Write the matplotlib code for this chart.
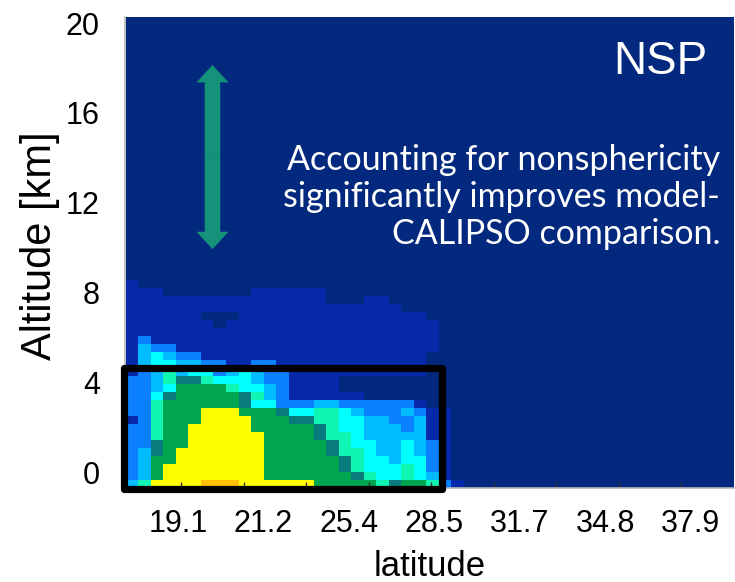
import numpy as np
import matplotlib
matplotlib.use("Agg")
import matplotlib.pyplot as plt
from matplotlib.colors import ListedColormap, BoundaryNorm
from matplotlib.patches import FancyArrowPatch, Rectangle

# curtain levels, one char per model cell (top row first)
# . navy, d dark blue, b azure, l light blue, c cyan, a aquamarine, t teal, g green, y yellow, o orange
curtain_rows = [
    "...........................",
    "d..........................",
    "ddd.......dddddd...........",
    "dddddddddddddddd...dd......",
    "dddddddddddddddddddddd.....",
    "dddddd...ddddddddddddddd...",
    "ddddddd.ddddddddddddddddd..",
    "ddddddddddddddddddddddddd..",
    "dbddddddddddddddddddddddd..",
    "dlbbddddddddddddddddddddd..",
    "dlclbbdddddddddddddddddd...",
    "dlccllbbddbbdddddddddddd...",
    "dblalccblclbbddddddddddd...",
    "bblattaccclbbdddd..........",
    "bblcggggacclbdddd..........",
    "bbctgggggtalbdddddd........",
    "bbaggggggtccbbbllbbbbbbd...",
    "bbagggyyygggtccaaclbbblbdd.",
    "dbagggyyyygggttaaccllbbldd.",
    "bbaggyyyyygggggtacclllbldd.",
    "bbaggyyyyyyggggtaacllllldd.",
    "bbtggyyyyyygggggtaccllclbd.",
    "bltgyyyyyyygggggtaacllclbd.",
    "blggyyyyyyyggggggtacclccbd.",
    "blgyyyyyyyyggggggtacccacbd.",
    "blgyyyyyyyygggggggtaccacld.",
    "layyyyoooyyyyyygggggatggabd",
]
level_of = {".": 0, "d": 1, "b": 2, "l": 3, "c": 4, "a": 5, "t": 6, "g": 7, "y": 8, "o": 9}
level_colors = ["#03297e", "#0529aa", "#0a80ff", "#00bbff", "#00ffff",
                "#10f5b4", "#087c7c", "#00a550", "#ffff00", "#ffc000"]

n_cols = 49
n_rows = 59
alt_bottom = -0.71   # km
alt_step = 0.356     # km per model layer

lat_labels = ["19.1", "21.2", "25.4", "28.5", "31.7", "34.8", "37.9"]
lat_label_pos = [4.16 + 6.83 * k for k in range(len(lat_labels))]
alt_ticks = [0, 4, 8, 12, 16, 20]

# build the grid (row 0 = lowest layer)
grid = np.zeros((n_rows, n_cols))
for r, line in enumerate(curtain_rows[::-1]):
    for c, ch in enumerate(line[:n_cols]):
        grid[r, c] = level_of.get(ch, 0)

x_edges = np.arange(n_cols + 1)
alt_edges = alt_bottom + alt_step * np.arange(n_rows + 1)

fig = plt.figure(figsize=(7.35, 5.82), dpi=100)
ax = fig.add_axes([0.170, 0.1615, 0.829, 0.8093])

cmap = ListedColormap(level_colors)
norm = BoundaryNorm(np.arange(-0.5, len(level_colors)), cmap.N)
ax.pcolormesh(x_edges, alt_edges, grid, cmap=cmap, norm=norm, shading="flat")

ax.set_xlim(-0.08, 48.64)
ax.set_ylim(alt_bottom, 20.27)

axis_font = "Liberation Sans"
ax.set_xticks(lat_label_pos)
ax.set_xticklabels(lat_labels, fontsize=22, family=axis_font)
ax.set_xticks(np.arange(4.4, 48, 5), minor=True)
ax.tick_params(axis="x", which="major", length=0, pad=15)
ax.tick_params(axis="x", which="minor", direction="in", length=4, color="#333333", width=1)
ax.set_yticks(alt_ticks)
ax.set_yticklabels([str(t) for t in alt_ticks], fontsize=22, family=axis_font)
ax.tick_params(axis="y", which="major", length=0, pad=18)

ax.set_xlabel("latitude", fontsize=25, family=axis_font, labelpad=8)
ax.set_ylabel("Altitude [km]", fontsize=30, family=axis_font)
ax.yaxis.set_label_coords(-0.106, 0.515)

for side in ["top", "right"]:
    ax.spines[side].set_visible(False)
for side in ["left", "bottom"]:
    ax.spines[side].set_color("#b8b8b8")
    ax.spines[side].set_linewidth(1.2)

# annotations
ax.text(0.956, 0.905, "NSP", transform=ax.transAxes, ha="right", va="center",
        fontsize=33, color="white", family=axis_font)
ax.text(0.977, 0.618,
        "Accounting for nonsphericity\nsignificantly improves model-\nCALIPSO comparison.",
        transform=ax.transAxes, ha="right", va="center", multialignment="right",
        fontsize=24.5, color="white", family="Lato", linespacing=1.18)

# double-headed green arrow, drawn as two halves from the middle
arrow_x = 6.92
arrow_top, arrow_bottom = 18.13, 9.93
arrow_mid = (arrow_top + arrow_bottom) / 2
for tip in (arrow_top, arrow_bottom):
    ax.add_patch(FancyArrowPatch((arrow_x, arrow_mid), (arrow_x, tip),
                                 arrowstyle="simple,head_length=1.25,head_width=2.3,tail_width=1.12",
                                 mutation_scale=10, shrinkA=0, shrinkB=0,
                                 facecolor="#14937a", edgecolor="none", lw=0))

# black highlight box around the lowest layers
ax.add_patch(Rectangle((-0.12, -0.735), 25.42, 5.385, fill=False, edgecolor="black",
                       lw=5.2, joinstyle="round", clip_on=False, zorder=5))

fig.savefig("out.png", dpi=100)
